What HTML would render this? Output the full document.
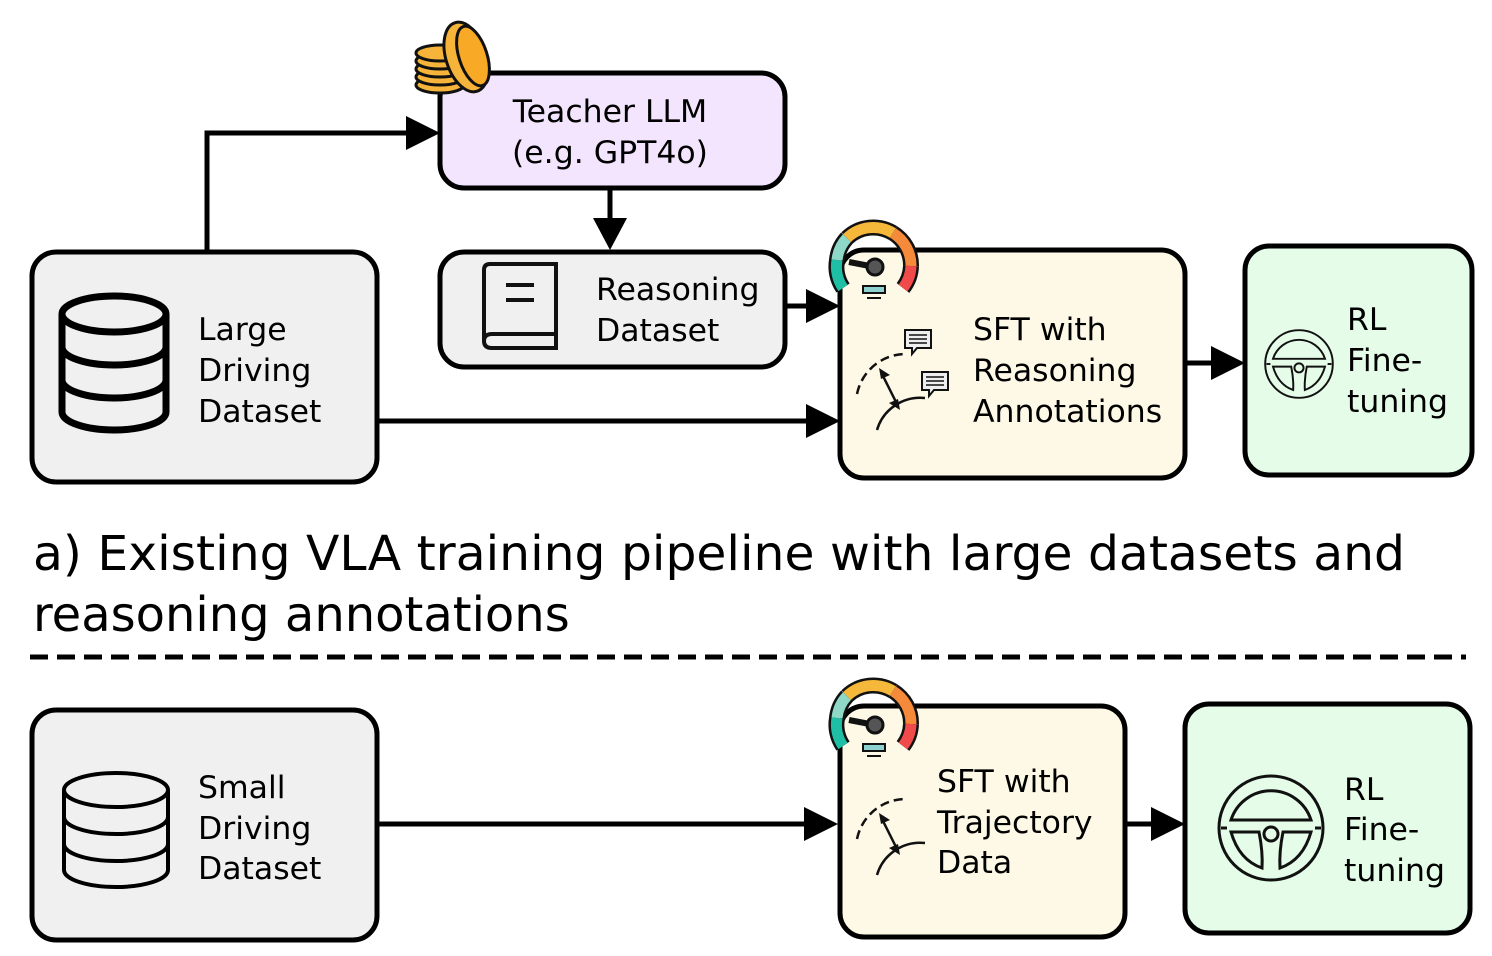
<!DOCTYPE html>
<html><head><meta charset="utf-8"><style>
html,body{margin:0;padding:0;background:#fff;}
svg{display:block;}
text{font-family:"DejaVu Sans","Liberation Sans",sans-serif;fill:#000;}
</style></head><body>
<svg width="1492" height="956" viewBox="0 0 1492 956" xmlns="http://www.w3.org/2000/svg">
<defs>
<g id="gauge">
  <path d="M-30,22 A38,38 0 0 1 -36,-6" stroke="#111" stroke-width="16" fill="none"/>
  <path d="M-30,22 A38,38 0 0 1 -36,-6" stroke="#1fbfa5" stroke-width="11" fill="none"/>
  <path d="M-36,-6 A38,38 0 0 1 -26,-28" stroke="#111" stroke-width="16" fill="none"/>
  <path d="M-36,-6 A38,38 0 0 1 -26,-28" stroke="#8fd8c8" stroke-width="11" fill="none"/>
  <path d="M-26,-28 A38,38 0 0 1 20,-33" stroke="#111" stroke-width="16" fill="none"/>
  <path d="M-26,-28 A38,38 0 0 1 20,-33" stroke="#f6b83a" stroke-width="11" fill="none"/>
  <path d="M20,-33 A38,38 0 0 1 38,0" stroke="#111" stroke-width="16" fill="none"/>
  <path d="M20,-33 A38,38 0 0 1 38,0" stroke="#f58a3a" stroke-width="11" fill="none"/>
  <path d="M38,0 A38,38 0 0 1 30,22" stroke="#111" stroke-width="16" fill="none"/>
  <path d="M38,0 A38,38 0 0 1 30,22" stroke="#f04a4a" stroke-width="11" fill="none"/>
  <line x1="-24" y1="-4" x2="2" y2="1" stroke="#111" stroke-width="6"/>
  <circle cx="2" cy="1" r="8" fill="#555" stroke="#111" stroke-width="3"/>
  <rect x="-10" y="20" width="22" height="7" fill="#8fd0d0" stroke="#111" stroke-width="2"/>
  <line x1="-6" y1="32" x2="8" y2="32" stroke="#111" stroke-width="2"/>
</g>
<g id="wheel" fill="none" stroke="#111" stroke-width="3">
  <circle cx="0" cy="0" r="52"/>
  <path d="M-40,-8 A42,42 0 0 1 40,-8 Z"/>
  <line x1="-50" y1="0" x2="-44" y2="0"/><line x1="44" y1="0" x2="50" y2="0"/>
  <circle cx="0" cy="6" r="7"/>
  <path d="M-40,4 L-12,4 Q-8,24 -9,40 Q-32,32 -40,4 Z"/>
  <path d="M40,4 L12,4 Q8,24 9,40 Q32,32 40,4 Z"/>
</g>
<g id="traj" fill="none" stroke="#111" stroke-width="2.5">
  <path d="M-20,32 A50,50 0 0 1 30,-8" stroke-dasharray="9,5"/>
  <path d="M0,68 A45,45 0 0 1 48,36"/>
  <line x1="6" y1="14" x2="19" y2="40"/>
  <polygon points="2,6 13,13 4,17" fill="#111" stroke="none"/>
  <polygon points="23,48 12,41 21,37" fill="#111" stroke="none"/>
</g>
<g id="bubble">
  <path d="M0,0 H26 V18 H12 L7,24 L7,18 H0 Z" fill="#eee" stroke="#111" stroke-width="2"/>
  <line x1="4" y1="5" x2="22" y2="5" stroke="#111" stroke-width="1.5"/>
  <line x1="4" y1="9" x2="22" y2="9" stroke="#111" stroke-width="1.5"/>
  <line x1="4" y1="13" x2="22" y2="13" stroke="#111" stroke-width="1.5"/>
</g>
</defs>

<rect x="440" y="73" width="345" height="115" rx="24" fill="#f3e5fd" stroke="#000" stroke-width="5"/>
<rect x="32" y="252" width="345" height="230" rx="24" fill="#f0f0f0" stroke="#000" stroke-width="5"/>
<rect x="440" y="252" width="345" height="115" rx="24" fill="#f0f0f0" stroke="#000" stroke-width="5"/>
<rect x="840" y="250" width="345" height="228" rx="24" fill="#fdf9e6" stroke="#000" stroke-width="5"/>
<rect x="1245" y="246" width="227" height="229" rx="24" fill="#e4fce8" stroke="#000" stroke-width="5"/>

<g stroke="#000" stroke-width="5" fill="none">
<polyline points="207,252 207,133 410,133"/>
<line x1="610" y1="188" x2="610" y2="222"/>
<line x1="785" y1="306" x2="810" y2="306"/>
<line x1="377" y1="421" x2="810" y2="421"/>
<line x1="1185" y1="363" x2="1215" y2="363"/>
<line x1="377" y1="824" x2="808" y2="824"/>
<line x1="1125" y1="824" x2="1155" y2="824"/>
</g>
<g fill="#000">
<polygon points="406,116 440,133 406,150"/>
<polygon points="593,218 627,218 610,250"/>
<polygon points="806,289 840,306 806,323"/>
<polygon points="806,404 840,421 806,438"/>
<polygon points="1211,346 1245,363 1211,380"/>
<polygon points="804,807 838,824 804,841"/>
<polygon points="1151,807 1185,824 1151,841"/>
</g>

<g stroke="#111" stroke-width="3">
  <g fill="#f7b43a">
  <ellipse cx="440" cy="85" rx="24" ry="8"/>
  <ellipse cx="440" cy="77" rx="24" ry="8"/>
  <ellipse cx="440" cy="69" rx="24" ry="8"/>
  <ellipse cx="440" cy="61" rx="24" ry="8"/>
  <ellipse cx="440" cy="53" rx="24" ry="8"/>
  <ellipse cx="466" cy="57" rx="20" ry="36" transform="rotate(-18 466 57)"/>
  <ellipse cx="473" cy="56" rx="14" ry="31" transform="rotate(-18 473 56)" fill="#f8a925"/>
  </g>
</g>

<g fill="none" stroke="#000" stroke-width="7">
  <ellipse cx="114" cy="314" rx="52" ry="18"/>
  <path d="M62,314 V412 A52,18 0 0 0 166,412 V314"/>
  <path d="M62,347 A52,18 0 0 0 166,347"/>
  <path d="M62,380 A52,18 0 0 0 166,380"/>
</g>
<g fill="none" stroke="#111" stroke-width="4">
  <path d="M484,270 Q484,264 490,264 H556 V334 H492 Q484,334 484,341 Z"/>
  <path d="M484,341 Q484,348 492,348 H556 V334"/>
  <line x1="506" y1="285" x2="534" y2="285"/>
  <line x1="506" y1="300" x2="534" y2="300"/>
</g>

<use href="#gauge" x="873" y="266"/>
<use href="#bubble" x="905" y="330"/>
<use href="#bubble" x="922" y="372"/>
<use href="#traj" x="877" y="362"/>
<use href="#wheel" x="1299" y="364" transform="translate(1299 364) scale(0.65) translate(-1299 -364)"/>

<g font-size="31.5">
<text x="610" y="122" text-anchor="middle">Teacher LLM</text>
<text x="610" y="163" text-anchor="middle">(e.g. GPT4o)</text>
<text x="198" y="340">Large</text><text x="198" y="381">Driving</text><text x="198" y="422">Dataset</text>
<text x="596" y="300">Reasoning</text><text x="596" y="341">Dataset</text>
<text x="973" y="340">SFT with</text><text x="973" y="381">Reasoning</text><text x="973" y="422">Annotations</text>
<text x="1347" y="330">RL</text><text x="1347" y="371">Fine-</text><text x="1347" y="412">tuning</text>
</g>

<text x="33" y="570" font-size="48" textLength="1372" lengthAdjust="spacingAndGlyphs">a) Existing VLA training pipeline with large datasets and</text>
<text x="33" y="631" font-size="48">reasoning annotations</text>
<line x1="30" y1="657" x2="1466" y2="657" stroke="#000" stroke-width="5" stroke-dasharray="18,9"/>

<rect x="32" y="710" width="345" height="230" rx="24" fill="#f0f0f0" stroke="#000" stroke-width="5"/>
<rect x="840" y="706" width="285" height="231" rx="24" fill="#fdf9e6" stroke="#000" stroke-width="5"/>
<rect x="1185" y="704" width="285" height="229" rx="24" fill="#e4fce8" stroke="#000" stroke-width="5"/>

<g fill="none" stroke="#000" stroke-width="4">
  <ellipse cx="116" cy="790" rx="52" ry="17"/>
  <path d="M64,790 V870 A52,17 0 0 0 168,870 V790"/>
  <path d="M64,817 A52,17 0 0 0 168,817"/>
  <path d="M64,844 A52,17 0 0 0 168,844"/>
</g>
<use href="#gauge" x="873" y="724"/>
<use href="#traj" x="877" y="807"/>
<use href="#wheel" x="1271" y="828"/>

<g font-size="31.5">
<text x="198" y="798">Small</text><text x="198" y="839">Driving</text><text x="198" y="879">Dataset</text>
<text x="937" y="792">SFT with</text><text x="937" y="833">Trajectory</text><text x="937" y="873">Data</text>
<text x="1344" y="800">RL</text><text x="1344" y="840">Fine-</text><text x="1344" y="881">tuning</text>
</g>
</svg>
</body></html>
